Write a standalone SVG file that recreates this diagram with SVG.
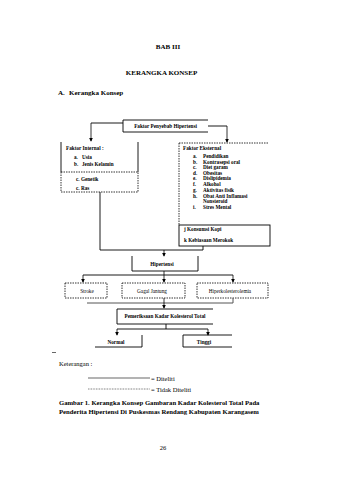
<svg xmlns="http://www.w3.org/2000/svg" width="339" height="480" viewBox="0 0 339 480">
<defs>
<marker id="ah" viewBox="0 0 6 6" refX="5" refY="3" markerWidth="4" markerHeight="4" orient="auto" markerUnits="userSpaceOnUse"><path d="M0,0 L6,3 L0,6 z" fill="#000"/></marker>
<style>
.t{font-family:"Liberation Serif","Times New Roman",serif;fill:#000}
.b{font-weight:bold}
.s{font-size:5.2px}
.ln{stroke:#000;stroke-width:0.9;fill:none}
.dl{stroke:#000;stroke-width:0.8;fill:none;stroke-dasharray:1.5,1}
.ar{stroke:#000;stroke-width:0.8;fill:none;marker-end:url(#ah)}
</style>
</defs>
<rect width="339" height="480" fill="#fff"/>
<g id="header">
<text class="t b" x="168" y="49" font-size="7" text-anchor="middle">BAB III</text>
<text class="t b" x="161.5" y="75" font-size="7" text-anchor="middle">KERANGKA KONSEP</text>
<text class="t b" x="58" y="95" font-size="7">A.</text>
<text class="t b" x="69" y="95" font-size="7">Kerangka Konsep</text>
</g>
<g id="n-penyebab">
<path class="ln" d="M123,120 H208 M123,132 H208 M123,120 V132"/>
<text class="t b s" x="165.5" y="128" text-anchor="middle">Faktor Penyebab Hipertensi</text>
</g>
<g id="n-internal">
<path class="ln" d="M61,142 V172 M138,142 V172"/>
<text class="t b s" x="66" y="149.5">Faktor Internal :</text>
<text class="t b s" x="74" y="159">a.</text><text class="t b s" x="82" y="159">Usia</text>
<text class="t b s" x="74" y="165.5">b.</text><text class="t b s" x="82" y="165.5">Jenis Kelamin</text>
</g>
<g id="n-internal2">
<rect class="dl" x="61" y="172" width="77" height="20"/>
<text class="t b s" x="76" y="180.5">c. Genetik</text>
<text class="t b s" x="76" y="190">c. Ras</text>
</g>
<g id="n-eksternal">
<path class="dl" d="M179,143 H268 M179,143 V225"/>
<text class="t b s" x="183" y="149.5">Faktor Eksternal</text>
<g class="t b s">
<text x="193" y="158">a.</text><text x="203" y="158">Pendidikan</text>
<text x="193" y="163.5">b.</text><text x="203" y="163.5">Kontrasepsi oral</text>
<text x="193" y="169">c.</text><text x="203" y="169">Diet garam</text>
<text x="193" y="174.5">d.</text><text x="203" y="174.5">Obesitas</text>
<text x="193" y="180">e.</text><text x="203" y="180">Dislipidemia</text>
<text x="193" y="186">f.</text><text x="203" y="186">Alkohol</text>
<text x="193" y="192">g.</text><text x="203" y="192">Aktivitas fisik</text>
<text x="193" y="197.5">h.</text><text x="203" y="197.5">Obat Anti Inflamasi</text>
<text x="203" y="203">Nonsteroid</text>
<text x="193" y="208.5">i.</text><text x="203" y="208.5">Stres Mental</text>
</g>
</g>
<g id="n-konsumsi">
<rect class="ln" x="179" y="225" width="91" height="21"/>
<text class="t b s" x="184" y="231">j  Konsumsi Kopi</text>
<text class="t b s" x="184" y="242">k  Kebiasaan Merokok</text>
</g>
<g id="n-hipertensi">
<path class="ln" d="M132,256 V271 H198 V256"/>
<text class="t b s" x="162" y="266" text-anchor="middle">Hipertensi</text>
</g>
<g id="n-stroke">
<rect class="dl" x="65" y="283" width="42" height="15"/>
<text class="t s" x="87" y="292.5" text-anchor="middle">Stroke</text>
</g>
<g id="n-gagal">
<rect class="dl" x="122" y="283" width="63" height="15"/>
<text class="t s" x="152" y="292.5" text-anchor="middle">Gagal Jantung</text>
</g>
<g id="n-hiperkol">
<rect class="dl" x="197" y="283" width="71" height="15"/>
<text class="t s" x="230" y="292.5" text-anchor="middle">Hiperkolesterolemia</text>
</g>
<g id="n-pemeriksaan">
<path class="ln" d="M213,309 H117 V324 H213"/>
<text class="t b s" x="165" y="318" text-anchor="middle">Pemeriksaan Kadar Kolesterol Total</text>
</g>
<g id="n-normal">
<path class="ln" d="M142,335 V347 H95"/>
<text class="t b s" x="116" y="343.5" text-anchor="middle">Normal</text>
</g>
<g id="n-tinggi">
<path class="ln" d="M232,335 H183 V347 H232"/>
<text class="t b s" x="204" y="343.5" text-anchor="middle">Tinggi</text>
</g>
<g id="connectors">
<path class="ln" d="M123,123 H91"/>
<path class="ar" d="M91,123 V141"/>
<path class="ln" d="M208,126 H227"/>
<path class="ar" d="M227,126 V142"/>
<path class="ln" d="M100,192 V250 H203 V246"/>
<path class="ar" d="M164,250 V256"/>
<path class="ar" d="M164,271 V282"/>
<path class="ln" d="M83,275 H233"/>
<path class="ar" d="M83,275 V282"/>
<path class="ar" d="M233,275 V282"/>
<path d="M87,303 H233 V298" stroke="#555" stroke-width="1" fill="none"/>
<path class="ar" d="M164,298 V308"/>
<path class="ln" d="M166,324 V329"/>
<path class="ln" d="M117,329 H208"/>
<path class="ar" d="M117,329 V335"/>
<path class="ar" d="M208,329 V335"/>
</g>
<g id="legend">
<path d="M52,352.5 H56" stroke="#000" stroke-width="0.6"/>
<text class="t" x="59" y="366" font-size="6.5">Keterangan :</text>
<path d="M88,378 H150" stroke="#000" stroke-width="0.6"/>
<text class="t" x="151" y="380.5" font-size="6.5">= Diteliti</text>
<path d="M88,389 H150" stroke="#000" stroke-width="0.6" stroke-dasharray="0.8,0.8"/>
<text class="t" x="151" y="391.5" font-size="6.5">= Tidak Diteliti</text>
</g>
<g id="caption">
<text class="t b" x="59" y="405" font-size="6.7">Gambar 1. Kerangka Konsep Gambaran Kadar Kolesterol Total Pada</text>
<text class="t b" x="59" y="414" font-size="6.7">Penderita Hipertensi Di Puskesmas Rendang Kabupaten Karangasem</text>
<text class="t" x="163" y="450" font-size="6.5" text-anchor="middle">26</text>
</g>
</svg>
